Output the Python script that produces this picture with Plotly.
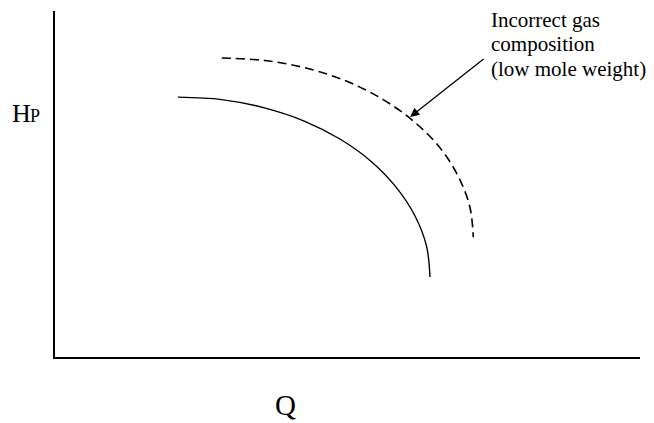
import plotly.graph_objects as go

# Head vs. flow curves (arbitrary units, 0-100 on both axes)
q_actual = [21.0, 28.5, 35.8, 42.6, 48.7, 54.0, 58.3, 61.5, 63.5, 64.1]
h_actual = [75.1, 74.4, 72.0, 68.2, 63.0, 56.6, 49.1, 40.9, 32.1, 23.1]

q_low_mw = [28.5, 35.9, 43.2, 50.0, 56.1, 61.4, 65.8, 68.9, 70.9, 71.5]
h_low_mw = [86.4, 85.7, 83.4, 79.6, 74.4, 68.0, 60.5, 52.3, 43.5, 34.6]

note_lines = ["Incorrect gas", "composition", "(low mole weight)"]
arrow_tip = (60.7, 69.4)

serif = "Liberation Serif, Times New Roman, serif"

fig = go.Figure()
fig.add_trace(go.Scatter(
    x=q_actual, y=h_actual, mode="lines", line_shape="spline",
    line=dict(color="black", width=1.4), showlegend=False, hoverinfo="skip"))
fig.add_trace(go.Scatter(
    x=q_low_mw, y=h_low_mw, mode="lines", line_shape="spline",
    line=dict(color="black", width=1.6, dash="9px,5px"),
    showlegend=False, hoverinfo="skip"))

# Arrow pointing at the dashed curve
fig.add_annotation(x=arrow_tip[0], y=arrow_tip[1], xref="x", yref="y",
                   ax=75, ay=-59, text="", showarrow=True,
                   arrowhead=2, arrowsize=1.4, arrowwidth=1.3,
                   arrowcolor="black")

# Note text, one line at a time
for i, line in enumerate(note_lines):
    fig.add_annotation(x=489, y=34 + i * 24.5, xref="paper", yref="paper",
                       text=line, showarrow=False, xanchor="left",
                       yanchor="bottom",
                       font=dict(family=serif, size=21, color="black"))

# Axis labels
fig.add_annotation(x=10, y=130, xref="paper", yref="paper", text="H",
                   showarrow=False, xanchor="left", yanchor="bottom",
                   font=dict(family=serif, size=26, color="black"))
fig.add_annotation(x=28, y=127.5, xref="paper", yref="paper", text="P",
                   showarrow=False, xanchor="left", yanchor="bottom",
                   font=dict(family=serif, size=18, color="black"))
fig.add_annotation(x=285, y=423, xref="paper", yref="paper", text="Q",
                   showarrow=False, xanchor="center", yanchor="bottom",
                   font=dict(family=serif, size=29, color="black"))

fig.update_xaxes(range=[0, 100], showline=True, linecolor="black",
                 linewidth=1.5, showgrid=False, zeroline=False,
                 showticklabels=False, ticks="")
fig.update_yaxes(range=[0, 100], showline=True, linecolor="black",
                 linewidth=1.5, showgrid=False, zeroline=False,
                 showticklabels=False, ticks="")

fig.update_layout(width=654, height=423,
                  margin=dict(l=55, r=14, t=11, b=66),
                  paper_bgcolor="white", plot_bgcolor="white")

# Place paper-referenced labels using pixel positions
W, H = 654, 423
L, R, T, B = 55, 14, 11, 66
pw, ph = W - L - R, H - T - B
for ann in fig.layout.annotations:
    if ann.xref == "paper":
        ann.x = (ann.x - L) / pw
        ann.y = (H - B - ann.y) / ph

fig.write_html("out.html")
